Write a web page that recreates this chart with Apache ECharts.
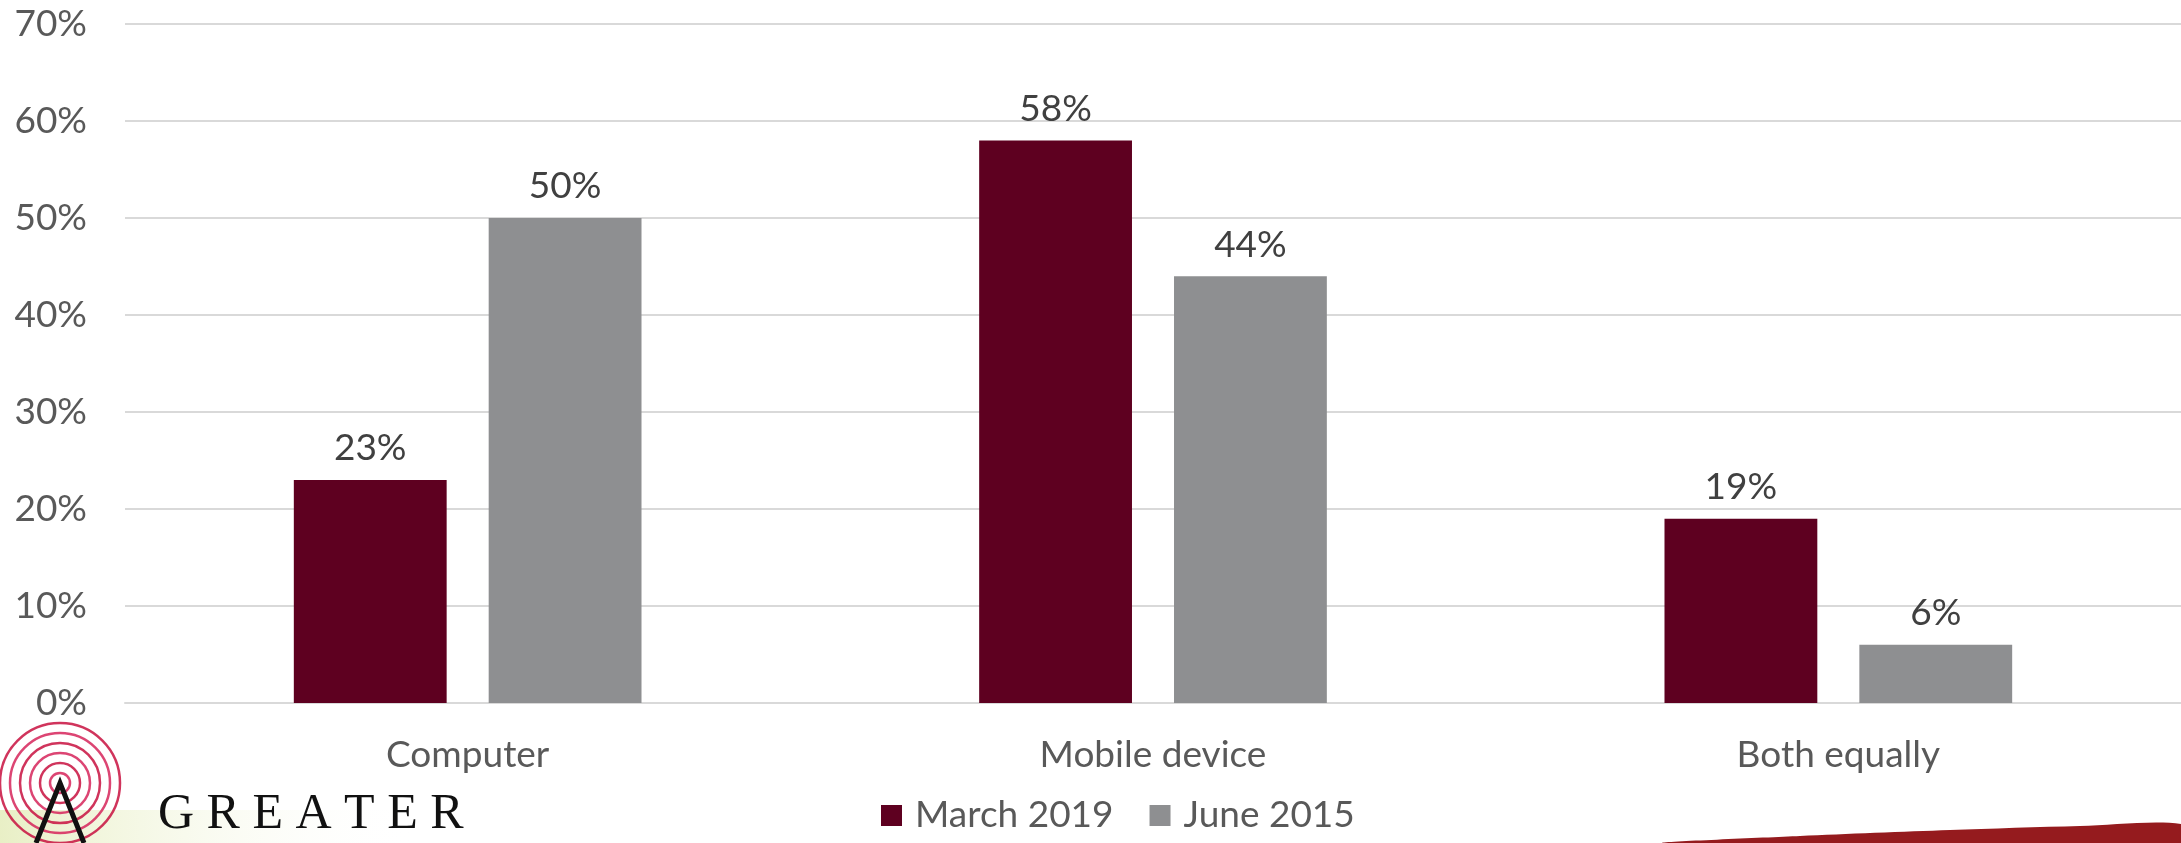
<!DOCTYPE html>
<html>
<head>
<meta charset="utf-8">
<title>Device usage</title>
<script src="https://cdn.jsdelivr.net/npm/echarts@6/dist/echarts.min.js"></script>
<style>
  html, body { margin: 0; padding: 0; background: #ffffff; }
  #chart { width: 2181px; height: 843px; }
</style>
</head>
<body>
<div id="chart"></div>
<script>
// Categories and survey shares (percent)
const categories = ['Computer', 'Mobile device', 'Both equally'];
const march2019 = [23, 58, 19];
const june2015 = [50, 44, 6];
const seriesNames = ['March 2019', 'June 2015'];
const yTicks = [0, 10, 20, 30, 40, 50, 60, 70];

const FONT = 'Lato, "Open Sans", sans-serif';
const FS = 37;
const chart = echarts.init(document.getElementById('chart'));

// Concentric rings of the logo mark
const rings = [];
[10, 20, 30, 40, 50, 60].forEach(function (r, i) {
  rings.push({
    type: 'circle',
    shape: { cx: 60, cy: 783, r: r },
    style: { fill: 'none', stroke: i % 2 ? '#c8103f' : '#d6245a', lineWidth: 2.5, opacity: 0.85 },
    silent: true
  });
});

chart.setOption({
  animation: false,
  backgroundColor: '#ffffff',
  color: ['#5e0020', '#8e8f91'],
  grid: { left: 125, right: 0, top: 24, bottom: 140, containLabel: false },
  legend: {
    data: seriesNames,
    bottom: 4,
    left: 876,
    itemWidth: 21,
    itemHeight: 21,
    itemGap: 36,
    icon: 'rect',
    textStyle: { fontFamily: FONT, fontSize: FS, color: '#595959', padding: [0, 0, 0, 8] }
  },
  xAxis: {
    type: 'category',
    data: categories,
    axisLine: { show: true, lineStyle: { color: '#d9d9d9', width: 2 } },
    axisTick: { show: false },
    axisLabel: { fontFamily: FONT, fontSize: FS, color: '#595959', margin: 34 }
  },
  yAxis: {
    type: 'value',
    min: yTicks[0],
    max: yTicks[yTicks.length - 1],
    interval: 10,
    axisLine: { show: false },
    axisTick: { show: false },
    splitLine: { lineStyle: { color: '#d9d9d9', width: 2 } },
    axisLabel: {
      fontFamily: FONT, fontSize: FS, color: '#595959', margin: 38,
      formatter: function (v) { return v + '%'; }
    }
  },
  series: [
    {
      name: seriesNames[0],
      type: 'bar',
      data: march2019,
      barWidth: '22.3%',
      barGap: '27.5%',
      label: {
        show: true, position: 'top', distance: 13,
        fontFamily: FONT, fontSize: FS, color: '#404040',
        formatter: '{c}%'
      }
    },
    {
      name: seriesNames[1],
      type: 'bar',
      data: june2015,
      barWidth: '22.3%',
      label: {
        show: true, position: 'top', distance: 13,
        fontFamily: FONT, fontSize: FS, color: '#404040',
        formatter: '{c}%'
      }
    }
  ],
  graphic: [
    // soft green haze behind the logo
    {
      type: 'rect',
      shape: { x: 0, y: 810, width: 420, height: 33 },
      style: {
        fill: new echarts.graphic.LinearGradient(0, 0, 1, 0, [
          { offset: 0, color: 'rgba(214,226,150,0.55)' },
          { offset: 1, color: 'rgba(255,255,255,0)' }
        ])
      },
      silent: true
    }
  ].concat(rings).concat([
    // antenna strokes
    {
      type: 'polyline',
      shape: { points: [[36, 843], [60, 783], [84, 843]] },
      style: { fill: 'none', stroke: '#111111', lineWidth: 5 },
      silent: true
    },
    {
      type: 'text',
      left: 158,
      top: 790,
      style: {
        text: 'G R E A T E R',
        font: '50px "Liberation Serif", "DejaVu Serif", serif',
        fill: '#111111'
      },
      silent: true
    },
    // red sweep in the lower right corner
    {
      type: 'polygon',
      shape: {
        points: [[1665, 843], [1800, 836], [1950, 830], [2080, 826], [2181, 824], [2181, 843]],
        smooth: 0.3
      },
      style: { fill: '#951b1e' },
      silent: true
    }
  ])
});
</script>
</body>
</html>
